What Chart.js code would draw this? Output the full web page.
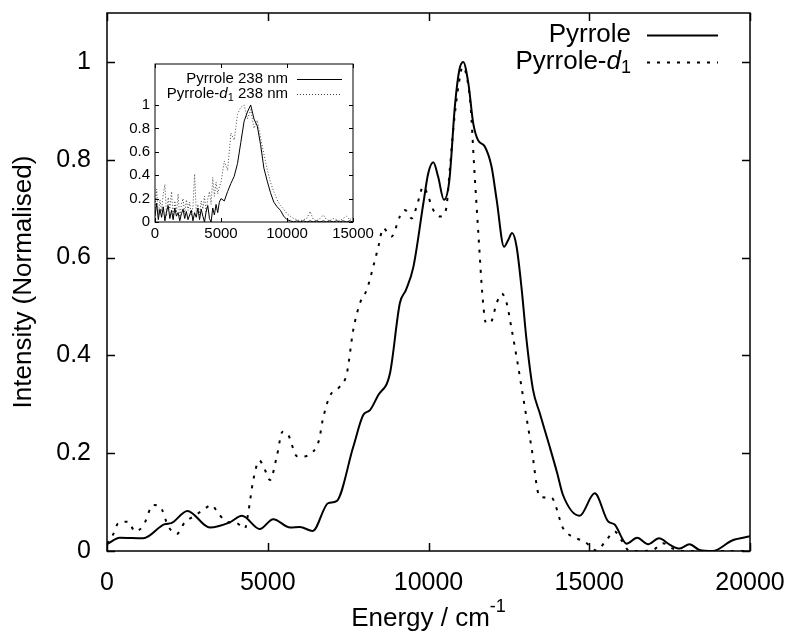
<!DOCTYPE html>
<html>
<head>
<meta charset="utf-8">
<script src="https://cdn.jsdelivr.net/npm/chart.js@4.4.1/dist/chart.umd.min.js"></script>
<style>
  body { margin: 0; background: #fff; }
  #wrap { position: relative; width: 790px; height: 634px; }
  #mainBox { position: absolute; left: 0; top: 0; width: 790px; height: 634px; }
  #insetBox { position: absolute; left: 95px; top: 50px; width: 280px; height: 200px; }
</style>
</head>
<body>
<div id="wrap">
  <div id="mainBox"><canvas id="mainChart"></canvas></div>
  <div id="insetBox"><canvas id="insetChart"></canvas></div>
</div>
<script>
// --- main spectrum (energy in cm-1, normalised intensity) ---
const pyrroleE = [0,400,1130,1800,2000,2500,3200,3800,4200,4750,5170,5700,6000,6400,6880,7140,7660,7970,8180,8430,8800,9110,9300,9530,9840,9990,10150,10300,10480,10650,10820,10960,11080,11240,11390,11540,11750,11960,12120,12350,12480,12600,12740,12900,13050,13250,13460,13770,14000,14180,14700,15170,15580,15790,16160,16490,16830,17170,17500,17810,18120,18430,18840,19460,20000];
const pyrroleI = [0.014,0.027,0.026,0.055,0.057,0.082,0.048,0.058,0.072,0.045,0.065,0.048,0.049,0.041,0.098,0.102,0.213,0.278,0.288,0.318,0.363,0.507,0.534,0.581,0.711,0.772,0.795,0.765,0.718,0.759,0.909,0.984,1.0,0.956,0.875,0.840,0.827,0.786,0.718,0.622,0.636,0.650,0.622,0.534,0.431,0.330,0.282,0.213,0.160,0.115,0.072,0.118,0.061,0.054,0.015,0.027,0.014,0.026,0.013,0.005,0.014,0.002,0.0,0.022,0.030];

const d1E = [0,200,350,660,870,1130,1440,1650,1910,2170,2430,2680,2990,3250,3460,3720,4030,4290,4390,4550,4740,4910,5070,5280,5460,5640,5900,6000,6410,6600,6710,6940,7200,7460,7660,7870,8080,8280,8440,8590,8850,9110,9270,9480,9630,9840,9990,10150,10360,10540,10670,10790,10930,11060,11190,11310,11420,11550,11690,11790,11930,12120,12280,12430,12590,12790,12950,13200,13460,13820,14190,14600,14860,15220,15530,15790,16000,16260,16500,16980,17290,17600,18000,19000,20000];
const d1I = [0.015,0.035,0.057,0.060,0.040,0.052,0.094,0.091,0.050,0.035,0.060,0.070,0.084,0.094,0.077,0.060,0.057,0.046,0.077,0.145,0.185,0.166,0.145,0.193,0.244,0.237,0.194,0.193,0.203,0.228,0.268,0.318,0.333,0.363,0.452,0.507,0.534,0.581,0.622,0.660,0.643,0.684,0.697,0.680,0.704,0.745,0.725,0.697,0.684,0.697,0.786,0.875,0.950,0.990,0.970,0.909,0.786,0.650,0.513,0.466,0.467,0.507,0.526,0.507,0.452,0.377,0.312,0.213,0.111,0.109,0.046,0.026,0.019,0.001,0.022,0.040,0.022,0.0,0.0,0.002,0.016,0.005,0.0,0.0,0.0];

// --- inset: 238 nm spectra ---
const insetE = [0,125,250,375,500,625,750,875,1000,1125,1250,1375,1500,1625,1750,1875,2000,2125,2250,2375,2500,2625,2750,2875,3000,3125,3250,3375,3500,3625,3750,3875,4000,4125,4250,4375,4500,4625,4750,4875,5000,
  5250,5500,5750,6000,6250,6500,6750,7000,7250,7500,7750,8000,8250,8500,8750,9000,9250,9500,9750,10000,10250,10500,10750,11000,11250,11500,11750,12000,12250,12500,12750,13000,13250,13500,13750,14000,14250,14500,14750,15000];
const insetPyrrole = [0.05,0.16,0.02,0.11,0.04,0.13,0.01,0.09,0.14,0.03,0.10,0.02,0.12,0.05,0.08,0.01,0.07,0.11,0.03,0.09,0.02,0.06,0.10,0.01,0.08,0.04,0.12,0.02,0.11,0.05,0.00,0.09,0.14,0.03,0.00,0.12,0.06,0.15,0.08,0.17,0.20,
  0.18,0.26,0.33,0.39,0.50,0.68,0.86,0.94,1.00,0.88,0.82,0.66,0.46,0.35,0.25,0.17,0.13,0.10,0.05,0.02,0.01,0.00,0.01,0.00,0.01,0.00,0.01,0.00,0.01,0.00,0.01,0.00,0.01,0.00,0.01,0.00,0.01,0.00,0.01,0.00];
const insetD1 = [0.12,0.28,0.06,0.19,0.09,0.24,0.32,0.05,0.21,0.11,0.26,0.04,0.18,0.08,0.24,0.03,0.15,0.20,0.07,0.19,0.10,0.17,0.05,0.13,0.41,0.09,0.15,0.06,0.18,0.11,0.22,0.08,0.20,0.26,0.15,0.38,0.22,0.34,0.24,0.30,0.34,
  0.52,0.44,0.76,0.70,0.92,0.98,1.00,0.88,0.96,0.80,0.87,0.72,0.58,0.45,0.34,0.26,0.19,0.14,0.11,0.07,0.05,0.03,0.02,0.01,0.02,0.03,0.09,0.02,0.01,0.03,0.06,0.02,0.01,0.03,0.02,0.01,0.03,0.05,0.02,0.04];

const mainXTicks = [0, 5000, 10000, 15000, 20000];
const mainYTicks = [0, 0.2, 0.4, 0.6, 0.8, 1];
const insetXTicks = [0, 5000, 10000, 15000];
const insetYTicks = [0, 0.2, 0.4, 0.6, 0.8, 1];

const FONT = '"Liberation Sans", Arial, sans-serif';
const pts = (xs, ys) => xs.map((x, i) => ({ x, y: ys[i] }));
const fixTicks = list => scale => { scale.ticks = list.map(v => ({ value: v })); };

// frame + inward mirrored ticks (gnuplot style)
const frameTicks = {
  id: 'frameTicks',
  afterDatasetsDraw(chart, args, opts) {
    const { ctx, chartArea: a, scales: { x, y } } = chart;
    ctx.save();
    ctx.strokeStyle = '#000';
    ctx.lineWidth = opts.width;
    ctx.strokeRect(a.left, a.top, a.right - a.left, a.bottom - a.top);
    const L = opts.len;
    ctx.beginPath();
    x.ticks.forEach(t => {
      const px = Math.round(x.getPixelForValue(t.value)) + 0.5;
      ctx.moveTo(px, a.bottom); ctx.lineTo(px, a.bottom - L);
      ctx.moveTo(px, a.top); ctx.lineTo(px, a.top + L);
    });
    y.ticks.forEach(t => {
      const py = Math.round(y.getPixelForValue(t.value)) + 0.5;
      ctx.moveTo(a.left, py); ctx.lineTo(a.left + L, py);
      ctx.moveTo(a.right, py); ctx.lineTo(a.right - L, py);
    });
    ctx.stroke();
    ctx.restore();
  }
};

// key with italic d and subscript 1, plus axis title with superscript
function drawLabel(ctx, parts, xRight, yMid, size) {
  let w = 0;
  parts.forEach(p => {
    ctx.font = (p.italic ? 'italic ' : '') + Math.round(size * (p.scale || 1)) + 'px ' + FONT;
    p.w = ctx.measureText(p.t).width;
    w += p.w;
  });
  let x = xRight - w;
  parts.forEach(p => {
    ctx.font = (p.italic ? 'italic ' : '') + Math.round(size * (p.scale || 1)) + 'px ' + FONT;
    ctx.fillText(p.t, x, yMid + (p.dy || 0) * size);
    x += p.w;
  });
}

const keyPlugin = {
  id: 'keyPlugin',
  afterDraw(chart, args, o) {
    const ctx = chart.ctx;
    ctx.save();
    ctx.fillStyle = '#000';
    ctx.textBaseline = 'middle';
    ctx.textAlign = 'left';
    o.items.forEach((it, i) => {
      const y = o.y + i * o.gap;
      drawLabel(ctx, it.parts, o.textRight, y, o.size);
      ctx.beginPath();
      ctx.strokeStyle = it.color;
      ctx.lineWidth = it.width;
      ctx.setLineDash(it.dash);
      ctx.moveTo(o.lineX0, Math.round(y) + 0.5);
      ctx.lineTo(o.lineX1, Math.round(y) + 0.5);
      ctx.stroke();
      ctx.setLineDash([]);
    });
    if (o.xTitle) {
      const a = chart.chartArea;
      const t = o.xTitle;
      ctx.font = t.size + 'px ' + FONT;
      const w1 = ctx.measureText(t.text).width;
      ctx.font = Math.round(t.size * 0.7) + 'px ' + FONT;
      const w2 = ctx.measureText(t.sup).width;
      const x0 = (a.left + a.right) / 2 - (w1 + w2) / 2;
      ctx.font = t.size + 'px ' + FONT;
      ctx.fillText(t.text, x0, t.y);
      ctx.font = Math.round(t.size * 0.7) + 'px ' + FONT;
      ctx.fillText(t.sup, x0 + w1, t.y - t.size * 0.45);
    }
    ctx.restore();
  }
};

Chart.defaults.font.family = FONT;
Chart.defaults.color = '#000';
Chart.defaults.animation = false;

new Chart(document.getElementById('mainChart'), {
  type: 'line',
  data: {
    datasets: [{
      label: 'Pyrrole',
      data: pts(pyrroleE, pyrroleI),
      borderColor: '#000',
      borderWidth: 2,
      pointRadius: 0,
      cubicInterpolationMode: 'monotone',
    }, {
      label: 'Pyrrole-d1',
      data: pts(d1E, d1I),
      borderColor: '#000',
      borderWidth: 2,
      borderDash: [3, 7],
      pointRadius: 0,
      cubicInterpolationMode: 'monotone',
    }],
  },
  options: {
    responsive: true,
    maintainAspectRatio: false,
    layout: { padding: { top: 13, right: 40, left: 0, bottom: 0 } },
    plugins: {
      legend: { display: false },
      tooltip: { enabled: false },
      frameTicks: { width: 1.5, len: 8 },
      keyPlugin: {
        size: 26, y: 35, gap: 27, textRight: 631, lineX0: 647, lineX1: 718,
        items: [
          { parts: [{ t: 'Pyrrole' }], color: '#000', width: 2, dash: [] },
          { parts: [{ t: 'Pyrrole-' }, { t: 'd', italic: true }, { t: '1', scale: 0.7, dy: 0.25 }], color: '#000', width: 2, dash: [3, 7] },
        ],
        xTitle: { text: 'Energy / cm', sup: '-1', size: 26, y: 619 },
      },
    },
    scales: {
      x: {
        type: 'linear', min: 0, max: 20000,
        afterFit: s => { s.height = 83; },
        afterBuildTicks: fixTicks(mainXTicks),
        grid: { display: false, drawTicks: true, tickLength: 17 },
        border: { display: false },
        ticks: { font: { size: 25 }, padding: 0, maxRotation: 0, callback: v => String(v) },
      },
      y: {
        type: 'linear', min: 0, max: 1.1,
        afterFit: s => { s.width = 107; },
        afterBuildTicks: fixTicks(mainYTicks),
        grid: { display: false, drawTicks: true, tickLength: 16 },
        border: { display: false },
        ticks: { font: { size: 25, lineHeight: 1 }, padding: 0, callback: v => String(+v.toFixed(1)) },
        title: { display: true, text: 'Intensity (Normalised)', font: { size: 26 }, padding: { top: 8, bottom: 0 } },
      },
    },
  },
  plugins: [frameTicks, keyPlugin],
});

new Chart(document.getElementById('insetChart'), {
  type: 'line',
  data: {
    datasets: [{
      label: 'Pyrrole 238 nm',
      data: pts(insetE, insetPyrrole),
      borderColor: '#000',
      borderWidth: 1,
      pointRadius: 0,
      tension: 0,
    }, {
      label: 'Pyrrole-d1 238 nm',
      data: pts(insetE, insetD1),
      borderColor: '#444',
      borderWidth: 1,
      borderDash: [1, 2],
      pointRadius: 0,
      tension: 0,
    }],
  },
  options: {
    responsive: true,
    maintainAspectRatio: false,
    layout: { padding: { top: 14, right: 22, left: 0, bottom: 0 } },
    plugins: {
      legend: { display: false },
      tooltip: { enabled: false },
      frameTicks: { width: 1, len: 4 },
      keyPlugin: {
        size: 15, y: 29, gap: 15, textRight: 193, lineX0: 202, lineX1: 247,
        items: [
          { parts: [{ t: 'Pyrrole 238 nm' }], color: '#000', width: 1, dash: [] },
          { parts: [{ t: 'Pyrrole-' }, { t: 'd', italic: true }, { t: '1', scale: 0.7, dy: 0.25 }, { t: ' 238 nm' }], color: '#444', width: 1, dash: [1, 2] },
        ],
      },
    },
    scales: {
      x: {
        type: 'linear', min: 0, max: 15000,
        afterFit: s => { s.height = 28; },
        afterBuildTicks: fixTicks(insetXTicks),
        grid: { display: false, drawTicks: true, tickLength: 3 },
        border: { display: false },
        ticks: { font: { size: 15 }, padding: 0, maxRotation: 0, callback: v => String(v) },
      },
      y: {
        type: 'linear', min: 0, max: 1.35,
        afterFit: s => { s.width = 60; },
        afterBuildTicks: fixTicks(insetYTicks),
        grid: { display: false, drawTicks: true, tickLength: 5 },
        border: { display: false },
        ticks: { font: { size: 15 }, padding: 0, callback: v => String(+v.toFixed(1)) },
      },
    },
  },
  plugins: [frameTicks, keyPlugin],
});
</script>
</body>
</html>
